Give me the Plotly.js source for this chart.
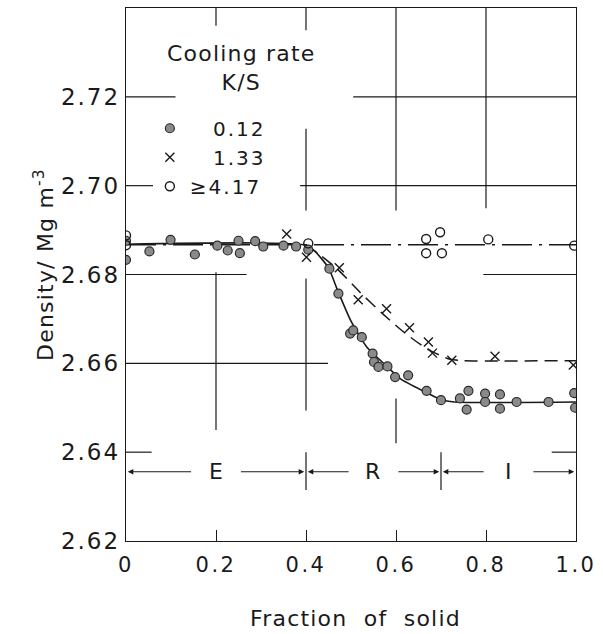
<!DOCTYPE html>
<html><head><meta charset="utf-8">
<script src="https://cdn.plot.ly/plotly-3.0.1.min.js"></script>
<style>
html,body{margin:0;padding:0;background:#fff}
#c{width:603px;height:634px}
svg text{letter-spacing:1.2px}
.xtick text{letter-spacing:2.5px}
.ytick text{letter-spacing:2px}
.legendtext{letter-spacing:2px}
</style>
</head><body><div id="c"></div>
<script>
// Cooling rate 0.12 K/s (filled circles)
const slowX = [0, 0, 0.052, 0.099, 0.153, 0.203, 0.226, 0.250, 0.253, 0.287, 0.305, 0.350, 0.378, 0.405, 0.452, 0.472, 0.498, 0.505, 0.524, 0.548, 0.551, 0.561, 0.581, 0.598, 0.627, 0.668, 0.700, 0.742, 0.761, 0.757, 0.798, 0.798, 0.831, 0.831, 0.868, 0.939, 0.996, 0.998];
const slowY = [2.6876, 2.6833, 2.6852, 2.6878, 2.6845, 2.6865, 2.6854, 2.6876, 2.6848, 2.6875, 2.6863, 2.6865, 2.6863, 2.6856, 2.6813, 2.6757, 2.6667, 2.6674, 2.6659, 2.6622, 2.6603, 2.6592, 2.6593, 2.6569, 2.6573, 2.6538, 2.6517, 2.6521, 2.6538, 2.6496, 2.6532, 2.6513, 2.6530, 2.6498, 2.6513, 2.6513, 2.6533, 2.6500];
// Cooling rate 1.33 K/s (crosses)
const midX = [0.357, 0.401, 0.474, 0.516, 0.579, 0.630, 0.672, 0.681, 0.724, 0.820, 0.994];
const midY = [2.6891, 2.6839, 2.6815, 2.6743, 2.6723, 2.6680, 2.6648, 2.6623, 2.6607, 2.6616, 2.6596];
// Cooling rate >= 4.17 K/s (open circles)
const fastX = [0, 0, 0.405, 0.667, 0.698, 0.667, 0.702, 0.805, 0.996];
const fastY = [2.6888, 2.6866, 2.6870, 2.6880, 2.6895, 2.6848, 2.6848, 2.6879, 2.6865];
// fitted curves
const slowCurveX = [0, 0.40, 0.42, 0.45, 0.47, 0.50, 0.535, 0.58, 0.61, 0.67, 0.70, 0.73, 1.0];
const slowCurveY = [2.6868, 2.6866, 2.6852, 2.6815, 2.6765, 2.6695, 2.6637, 2.6593, 2.6565, 2.6533, 2.6518, 2.6513, 2.6513];
const midCurveX = [0.40, 0.43, 0.47, 0.52, 0.57, 0.62, 0.67, 0.72, 0.75, 1.0];
const midCurveY = [2.6866, 2.6845, 2.6812, 2.6760, 2.6712, 2.6668, 2.6632, 2.6609, 2.6606, 2.6606];
const fastCurveX = [0, 1.0];
const fastCurveY = [2.6867, 2.6867];
// labels
const legendNames = ['\u2007 0.12', '\u2007 1.33', '\u22654.17'];
const xTicks = [0, 0.2, 0.4, 0.6, 0.8, 1.0];
const xTickText = ['0', '0.2', '0.4', '0.6', '0.8', '1.0'];
const yTicks = [2.62, 2.64, 2.66, 2.68, 2.70, 2.72];
const yTickText = ['2.62', '2.64', '2.66', '2.68', '2.70', '2.72'];
const regionNames = ['E', 'R', 'I'];
const regionBounds = [0, 0.4, 0.7, 1.0];

const ink = '#1a1a1a';
const F = 'DejaVu Sans, sans-serif';

const traces = [
  {x: fastCurveX, y: fastCurveY, mode: 'lines', line: {color: ink, width: 1.3, dash: '30px,7px,3px,7px'}, showlegend: false, hoverinfo: 'skip'},
  {x: midCurveX, y: midCurveY, mode: 'lines', line: {color: ink, width: 1.5, dash: '13px,7px', shape: 'spline', smoothing: 0.6}, showlegend: false, hoverinfo: 'skip'},
  {x: slowCurveX, y: slowCurveY, mode: 'lines', line: {color: ink, width: 1.6, shape: 'spline', smoothing: 0.6}, showlegend: false, hoverinfo: 'skip'},
  {x: slowX, y: slowY, mode: 'markers', name: legendNames[0], marker: {symbol: 'circle', size: 9, color: '#8a8a8a', line: {color: '#2a2a2a', width: 1.2}}},
  {x: midX, y: midY, mode: 'markers', name: legendNames[1], marker: {symbol: 'x-thin-open', size: 9, color: ink, line: {color: ink, width: 1.4}}},
  {x: fastX, y: fastY, mode: 'markers', name: legendNames[2], marker: {symbol: 'circle-open', size: 9, color: ink, line: {color: ink, width: 1.4}}}
];

function seg(x0, y0, x1, y1) {
  return {type: 'line', xref: 'x', yref: 'y', x0: x0, y0: y0, x1: x1, y1: y1, line: {color: ink, width: 1.2}, layer: 'below'};
}
const shapes = [
  seg(0, 2.72, 0.11, 2.72), seg(0.505, 2.72, 1, 2.72),
  seg(0, 2.70, 0.06, 2.70), seg(0.387, 2.70, 1, 2.70),
  seg(0, 2.68, 0.268, 2.68), seg(0.794, 2.68, 1, 2.68),
  seg(0, 2.66, 0.449, 2.66),
  seg(0, 2.64, 0.057, 2.64), seg(0.946, 2.64, 1, 2.64),
  seg(0.2, 2.736, 0.2, 2.74), seg(0.2, 2.645, 0.2, 2.6805),
  seg(0.4, 2.735, 0.4, 2.74), seg(0.4, 2.6944, 0.4, 2.7128), seg(0.4, 2.6494, 0.4, 2.6791),
  seg(0.6, 2.6944, 0.6, 2.74), seg(0.6, 2.642, 0.6, 2.6521),
  seg(0.8, 2.6949, 0.8, 2.74),
  seg(regionBounds[1], 2.6315, regionBounds[1], 2.64), seg(regionBounds[2], 2.6315, regionBounds[2], 2.64)
];

const arrowY = 2.6356;
const annotations = [
  {xref: 'x', yref: 'y', x: 0.2556, y: 2.7264, text: 'Cooling rate<br>K/S', showarrow: false, font: {family: F, size: 22, color: ink}, align: 'center'},
  {xref: 'paper', yref: 'paper', x: 0.51, y: -0.1445, xanchor: 'center', yanchor: 'middle', text: 'Fraction\u00a0\u00a0of\u00a0\u00a0solid', showarrow: false, font: {family: F, size: 22, color: ink}},
  {xref: 'paper', yref: 'paper', x: -0.1822, y: 0.518, xanchor: 'center', yanchor: 'middle', text: 'Density/ Mg m<sup>-3</sup>', textangle: -90, showarrow: false, font: {family: F, size: 22, color: ink}}
];
// region labels and arrows
for (let i = 0; i < 3; i++) {
  const a = regionBounds[i], b = regionBounds[i + 1];
  const mid = (a + b) / 2;
  annotations.push({xref: 'x', yref: 'y', x: mid, y: arrowY, text: regionNames[i], showarrow: false, font: {family: F, size: 22, color: ink}});
  const gap = 0.052;
  annotations.push({xref: 'x', yref: 'y', axref: 'x', ayref: 'y', x: a + 0.004, y: arrowY, ax: mid - gap, ay: arrowY, text: '', showarrow: true, arrowhead: 2, arrowsize: 1, arrowwidth: 1.1, arrowcolor: ink});
  annotations.push({xref: 'x', yref: 'y', axref: 'x', ayref: 'y', x: b - 0.004, y: arrowY, ax: mid + gap, ay: arrowY, text: '', showarrow: true, arrowhead: 2, arrowsize: 1, arrowwidth: 1.1, arrowcolor: ink});
}

const layout = {
  width: 603, height: 634,
  margin: {l: 126, r: 27, t: 8, b: 93},
  paper_bgcolor: '#fff', plot_bgcolor: '#fff',
  showlegend: true,
  legend: {x: 0.053, y: 0.811, xanchor: 'left', yanchor: 'top', bgcolor: 'rgba(0,0,0,0)', font: {family: F, size: 20, color: ink}, itemwidth: 30, tracegroupgap: 0},
  xaxis: {range: [0, 1.0], tickvals: xTicks, ticktext: xTickText, showgrid: false, zeroline: false, showline: true, linecolor: ink, linewidth: 1.3, mirror: true, ticks: 'inside', ticklen: 11, tickcolor: ink, tickfont: {family: F, size: 21, color: ink}, ticklabelstandoff: 4},
  yaxis: {range: [2.62, 2.74], tickvals: yTicks, ticktext: yTickText, showgrid: false, zeroline: false, showline: true, linecolor: ink, linewidth: 1.3, mirror: true, ticks: '', tickfont: {family: F, size: 23, color: ink}, ticklabelstandoff: 0},
  shapes: shapes,
  annotations: annotations
};

Plotly.newPlot('c', traces, layout, {staticPlot: true});
</script>
</body></html>
